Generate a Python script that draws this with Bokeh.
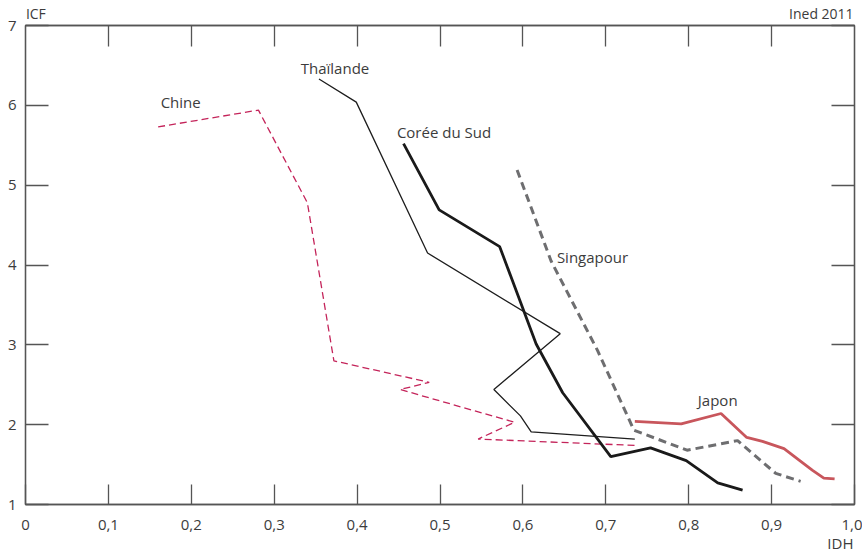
from bokeh.plotting import figure
from bokeh.models import LinearAxis, FixedTicker, Label, Range1d
from bokeh.embed import file_html
from bokeh.resources import INLINE

# ---- data ----
chine_x = [0.160, 0.281, 0.340, 0.372, 0.487, 0.452, 0.590, 0.546, 0.735]
chine_y = [5.73, 5.94, 4.78, 2.80, 2.53, 2.44, 2.03, 1.82, 1.74]

thai_x = [0.354, 0.399, 0.485, 0.645, 0.565, 0.597, 0.610, 0.735]
thai_y = [6.33, 6.04, 4.15, 3.14, 2.44, 2.11, 1.91, 1.82]

coree_x = [0.456, 0.499, 0.572, 0.616, 0.648, 0.706, 0.754, 0.797, 0.835, 0.865]
coree_y = [5.52, 4.69, 4.23, 3.01, 2.40, 1.60, 1.71, 1.55, 1.27, 1.18]

sing_x = [0.593, 0.634, 0.690, 0.734, 0.798, 0.859, 0.905, 0.935]
sing_y = [5.19, 4.05, 2.93, 1.93, 1.68, 1.80, 1.39, 1.29]

japon_x = [0.735, 0.791, 0.839, 0.870, 0.889, 0.915, 0.949, 0.963, 0.976]
japon_y = [2.04, 2.01, 2.14, 1.84, 1.79, 1.70, 1.43, 1.33, 1.32]

x_ticks = [0.0, 0.1, 0.2, 0.3, 0.4, 0.5, 0.6, 0.7, 0.8, 0.9, 1.0]
x_tick_labels = ["0", "0,1", "0,2", "0,3", "0,4", "0,5", "0,6", "0,7", "0,8", "0,9", "1,0"]
y_ticks = [1, 2, 3, 4, 5, 6, 7]
y_tick_labels = ["1", "2", "3", "4", "5", "6", "7"]

series_names = ["Chine", "Thaïlande", "Corée du Sud", "Singapour", "Japon"]
label_pos = [(0.163, 5.966), (0.332, 6.39), (0.448, 5.59), (0.641, 4.02), (0.811, 2.23)]

# outer texts (y-axis title, source, x-axis title) and the x where each is centred
top_texts = ["ICF", "Ined 2011"]
top_text_x = [0.0125, 0.96]
bottom_text = "IDH"
bottom_text_x = 0.983

FONT = "Open Sans"
TXT = "#3c3c3c"
AX = "#555555"

p = figure(frame_width=829, frame_height=479,
           x_range=Range1d(0, 1), y_range=Range1d(1, 7),
           min_border_left=25, min_border_top=25, min_border_right=8, min_border_bottom=50,
           output_backend="svg", toolbar_location=None, x_axis_type=None, y_axis_type=None)
p.grid.visible = False
p.outline_line_color = AX
p.outline_line_width = 1.3
p.background_fill_color = "white"
p.border_fill_color = "white"

def style(ax, size, standoff, font_size="15px"):
    ax.axis_line_color = AX
    ax.axis_line_width = 1.3
    ax.major_tick_line_color = AX
    ax.major_tick_line_width = 1.3
    ax.major_tick_in = size
    ax.major_tick_out = 0
    ax.minor_tick_line_color = None
    ax.major_label_standoff = standoff
    ax.major_label_text_font = FONT
    ax.major_label_text_color = TXT
    ax.major_label_text_font_size = font_size
    return ax

# bottom axis with tick labels
xb = LinearAxis(ticker=FixedTicker(ticks=x_ticks),
                major_label_overrides={t: l for t, l in zip(x_ticks, x_tick_labels)})
p.add_layout(style(xb, 20, 15), "below")

# second bottom axis carrying the x-axis title only
xb2 = LinearAxis(ticker=FixedTicker(ticks=[bottom_text_x]),
                 major_label_overrides={bottom_text_x: bottom_text})
style(xb2, 0, 0)
xb2.axis_line_color = None
xb2.major_tick_line_color = None
p.add_layout(xb2, "below")

# left axis with tick labels
yl = LinearAxis(ticker=FixedTicker(ticks=y_ticks),
                major_label_overrides={t: l for t, l in zip(y_ticks, y_tick_labels)})
p.add_layout(style(yl, 23, 9), "left")

# top axis: tick marks as minor ticks, texts as major labels
xt = LinearAxis(ticker=FixedTicker(ticks=top_text_x, minor_ticks=x_ticks[1:-1]),
                major_label_overrides={t: l for t, l in zip(top_text_x, top_texts)})
style(xt, 0, 3, "14px")
xt.major_tick_line_color = None
xt.minor_tick_line_color = AX
xt.minor_tick_line_width = 1.3
xt.minor_tick_in = 21
xt.minor_tick_out = 0
p.add_layout(xt, "above")

# right axis: tick marks only
yr = LinearAxis(ticker=FixedTicker(ticks=y_ticks))
style(yr, 23, 0, "1px")
yr.major_label_text_color = None
p.add_layout(yr, "right")

p.line(chine_x, chine_y, line_color="#c4245a", line_width=1.3, line_dash="7 4")
p.line(thai_x, thai_y, line_color="#1e1e1e", line_width=1.3)
p.line(coree_x, coree_y, line_color="#1a1a1a", line_width=2.8)
p.line(sing_x, sing_y, line_color="#6e6e70", line_width=3, line_dash="8 5")
p.line(japon_x, japon_y, line_color="#c8565c", line_width=2.8)

for name, (lx, ly) in zip(series_names, label_pos):
    p.add_layout(Label(x=lx, y=ly, y_offset=6, text=name, text_font=FONT, text_font_size="15px",
                       text_color=TXT, text_baseline="alphabetic", text_align="left"))

open("out.html", "w").write(file_html(p, INLINE))
